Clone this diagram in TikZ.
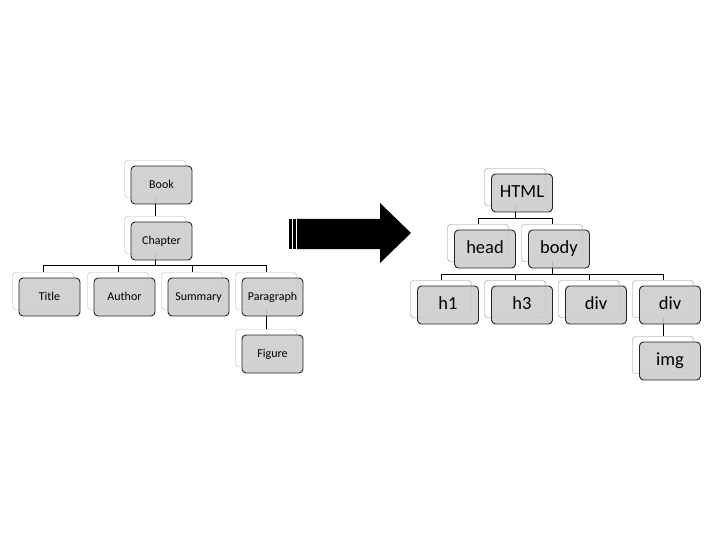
\documentclass[tikz,border=0pt]{standalone}
\usepackage{fontspec}
\setmainfont{Carlito}
\usetikzlibrary{positioning}
\tikzset{
	back/.style={draw=black!30, fill=white, rounded corners=3pt, minimum width=61pt, minimum height=37pt, inner sep=0pt},
	front/.style={draw=black!85, fill=black!20, fill opacity=0.88, text opacity=1, rounded corners=4pt, minimum width=61pt, minimum height=38pt, inner sep=0pt, line width=0.9pt},
	link/.style={line width=1pt, black}
}
\newcommand{\smallfont}{\fontsize{12}{14}\selectfont}
\newcommand{\bigfont}{\fontsize{18.5}{21}\selectfont}
\begin{document}
\begin{tikzpicture}[x=1pt, y=-1pt]
\useasboundingbox (0,0) rectangle (720,540);

%% Buch
\begin{scope}
	%% Hintergrund
	\node[back] (book) at (155,179) {};
	\node[back] (chapter) at (155,235) {};
	\node[back] (title) at (43,291) {};
	\node[back] (author) at (118,291) {};
	\node[back] (summary) at (192,291) {};
	\node[back] (paragraph) at (266,291) {};
	\node[back] (figure) at (266,348) {};
	%%%%%%%%%%%%%%%%

	%% Linien
	\draw[link] (book.south) -- (chapter.north);
	\foreach \child in {title, author, summary, paragraph}
		\draw[link] (chapter.south) -- ++(0,12) -| (\child.north);
	\draw[link] (paragraph.south) -- (figure.north);

	%% Kaesten
	\foreach \name/\txt in {book/Book, chapter/Chapter, title/Title, author/Author, summary/Summary, paragraph/Paragraph, figure/Figure}
		\node[front, font=\smallfont, text height=1.8ex, text depth=0.4ex] (\name-f) at ([shift={(6.5,6)}]\name) {\txt};
\end{scope}

%% Pfeil
\fill[black] (297,219) -- (380,219) -- (380,203) -- (411,233) -- (380,263) -- (380,249) -- (297,249) -- cycle;
\fill[black] (289,219) rectangle (291.5,249);
\fill[black] (293,219) rectangle (295.5,249);

%% HTML
\begin{scope}
	%% Hintergrund
	\node[back, draw=black!45] (html) at (515,187) {};
	\node[back, draw=black!45] (head) at (478,243) {};
	\node[back, draw=black!45] (body) at (552,243) {};
	\node[back, draw=black!45] (hone) at (441,299) {};
	\node[back, draw=black!45] (hthree) at (515,299) {};
	\node[back, draw=black!45] (diva) at (589,299) {};
	\node[back, draw=black!45] (divb) at (663,299) {};
	\node[back, draw=black!45] (img) at (663,355) {};
	%%%%%%%%%%%%%%%%

	%% Linien
	\foreach \child in {head, body}
		\draw[link] (html.south) -- ++(0,13) -| (\child.north);
	\foreach \child in {hone, hthree, diva, divb}
		\draw[link] (body.south) -- ++(0,13) -| (\child.north);
	\draw[link] (divb.south) -- (img.north);

	%% Kaesten
	\foreach \name/\txt in {html/HTML, head/head, body/body, hone/h1, hthree/h3, diva/div, divb/div, img/img}
		\node[front, font=\bigfont, text height=2.2ex, text depth=0.3ex] (\name-f) at ([shift={(7,6)}]\name) {\txt};
\end{scope}

\end{tikzpicture}
\end{document}
